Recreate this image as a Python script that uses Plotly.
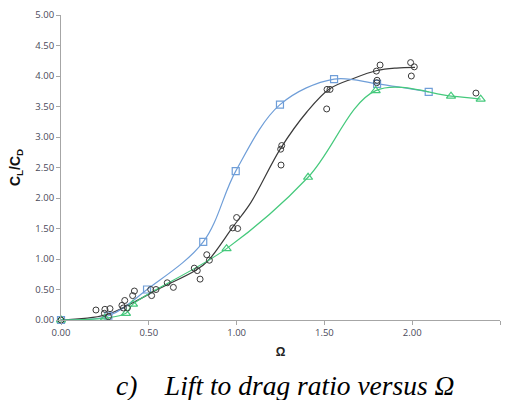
import plotly.graph_objects as go

# Blue squares (smoothed line)
blue_x = [0.0, 0.27, 0.49, 0.81, 0.995, 1.247, 1.555, 1.80, 2.094]
blue_y = [0.0, 0.07, 0.50, 1.28, 2.44, 3.53, 3.95, 3.87, 3.74]

# Green triangles (smoothed line)
green_x = [0.0, 0.25, 0.37, 0.41, 0.943, 1.407, 1.792, 2.221, 2.39]
green_y = [0.0, 0.03, 0.11, 0.26, 1.17, 2.34, 3.76, 3.67, 3.62]

# Black circles (scatter data)
circ_x = [0.0, 0.199, 0.25, 0.279, 0.247, 0.27, 0.347, 0.363, 0.355, 0.378,
          0.408, 0.418, 0.511, 0.516, 0.541, 0.605, 0.64, 0.759, 0.776, 0.792,
          0.83, 0.845, 0.978, 1.0, 1.006, 1.257, 1.251, 1.253, 1.515, 1.532,
          1.513, 1.817, 1.796, 1.80, 1.798, 1.991, 2.012, 1.995, 2.363]
circ_y = [0.0, 0.164, 0.175, 0.186, 0.11, 0.055, 0.24, 0.32, 0.197, 0.197,
          0.40, 0.475, 0.50, 0.40, 0.50, 0.61, 0.535, 0.85, 0.81, 0.67,
          1.07, 0.98, 1.51, 1.68, 1.50, 2.86, 2.80, 2.54, 3.78, 3.78,
          3.46, 4.18, 4.08, 3.93, 3.89, 4.22, 4.15, 4.00, 3.72]

# Black fitted curve
fit_x = [0.0, 0.25, 0.42, 0.55, 0.77, 0.84, 0.98, 1.08, 1.25, 1.40, 1.53, 1.665, 1.80, 1.91, 2.016]
fit_y = [0.0, 0.08, 0.30, 0.50, 0.82, 0.98, 1.53, 1.92, 2.81, 3.41, 3.79, 3.96, 4.09, 4.13, 4.14]

x_ticks = [0.0, 0.5, 1.0, 1.5, 2.0, 2.5]
y_ticks = [0.0, 0.5, 1.0, 1.5, 2.0, 2.5, 3.0, 3.5, 4.0, 4.5, 5.0]

BLUE = "#6F9ED8"
GREEN = "#45C97C"
BLACK = "#3A3A3A"

fig = go.Figure()
fig.add_trace(go.Scatter(x=fit_x, y=fit_y, mode="lines",
                         line=dict(color=BLACK, width=1.2, shape="spline", smoothing=1.0),
                         cliponaxis=False, showlegend=False, hoverinfo="skip"))
fig.add_trace(go.Scatter(x=blue_x, y=blue_y, mode="lines+markers",
                         line=dict(color=BLUE, width=1.2, shape="spline", smoothing=1.0),
                         marker=dict(symbol="square-open", size=7, color=BLUE, line=dict(width=1.2)),
                         cliponaxis=False, showlegend=False))
fig.add_trace(go.Scatter(x=green_x, y=green_y, mode="lines+markers",
                         line=dict(color=GREEN, width=1.2, shape="spline", smoothing=1.0),
                         marker=dict(symbol="triangle-up-open", size=8, color=GREEN, line=dict(width=1.2)),
                         cliponaxis=False, showlegend=False))
fig.add_trace(go.Scatter(x=circ_x, y=circ_y, mode="markers",
                         marker=dict(symbol="circle-open", size=6, color=BLACK, line=dict(width=1)),
                         cliponaxis=False, showlegend=False))

axis_font = dict(family="Open Sans, Liberation Sans, sans-serif", size=9.5, color="#4A4A5A")

fig.update_layout(
    width=508, height=400,
    margin=dict(l=61, r=8, t=15, b=80),
    paper_bgcolor="white", plot_bgcolor="white",
    xaxis=dict(range=[0, 2.5], tickvals=x_ticks, ticktext=[f"{v:.2f}" for v in x_ticks],
               showgrid=False, zeroline=False, showline=True, linecolor="#A6A6A6", linewidth=1,
               ticks="outside", ticklen=4, tickcolor="#A6A6A6", tickfont=axis_font,
               title=dict(text="<b>Ω</b>", font=dict(family="Liberation Sans, Arial", size=12, color="#222"),
                          standoff=9)),
    yaxis=dict(range=[0, 5], tickvals=y_ticks, ticktext=[f"{v:.2f}" for v in y_ticks],
               showgrid=False, zeroline=False, showline=True, linecolor="#A6A6A6", linewidth=1,
               ticks="outside", ticklen=4, tickcolor="#A6A6A6", tickfont=axis_font,
               title=dict(text="<b>C<sub>L</sub>/C<sub>D</sub></b>",
                          font=dict(family="Liberation Sans, Arial", size=14, color="#111"),
                          standoff=11)),
    annotations=[dict(text="<i>c)&nbsp;&nbsp;&nbsp;&nbsp;Lift to drag ratio versus Ω</i>",
                      xref="paper", yref="paper", x=0.511, y=-0.215,
                      xanchor="center", yanchor="middle", showarrow=False,
                      font=dict(family="Liberation Serif, Times New Roman, serif", size=27.5, color="#000"))],
)

fig.write_html("out.html")
